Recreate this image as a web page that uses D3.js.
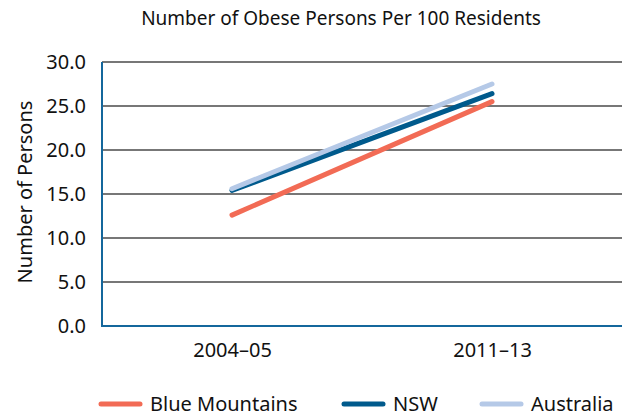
<!DOCTYPE html>
<html>
<head>
<meta charset="utf-8">
<script src="https://cdn.jsdelivr.net/npm/d3@7"></script>
<style>
  body { margin: 0; background: #fff; }
  svg { display: block; font-family: "Noto Sans", "Open Sans", sans-serif; }
</style>
</head>
<body>
<div id="chart"></div>
<script>
const periods = ["2004–05", "2011–13"];
const blueMountains = [12.6, 25.5];
const nsw = [15.4, 26.4];
const australia = [15.6, 27.5];
const yTicks = [0, 5, 10, 15, 20, 25, 30];

const series = [
    { name: "Blue Mountains", values: blueMountains, color: "#f26b55" },
    { name: "NSW", values: nsw, color: "#005a8c" },
    { name: "Australia", values: australia, color: "#b5c9e7" }
];

const width = 633, height = 418;
const margin = { top: 62, right: 11, bottom: 92, left: 102 };
const innerW = width - margin.left - margin.right;
const innerH = height - margin.top - margin.bottom;

const svg = d3.select("#chart")
    .append("svg")
    .attr("width", width)
    .attr("height", height);

// Title
svg.append("text")
    .attr("x", 341)
    .attr("y", 25)
    .attr("text-anchor", "middle")
    .attr("font-size", 19)
    .attr("fill", "#111")
    .text("Number of Obese Persons Per 100 Residents");

const g = svg.append("g")
    .attr("transform", `translate(${margin.left},${margin.top})`);

const x = d3.scalePoint()
    .domain(periods)
    .range([0, innerW])
    .padding(0.5);

const y = d3.scaleLinear()
    .domain([0, 30])
    .range([innerH, 0]);

// Gridlines
g.append("g")
    .selectAll("line")
    .data(yTicks.filter(d => d > 0))
    .enter()
    .append("line")
    .attr("x1", 0)
    .attr("x2", innerW)
    .attr("y1", d => y(d))
    .attr("y2", d => y(d))
    .attr("stroke", "#4a4a4a")
    .attr("stroke-width", 1.3);

// Y axis
const yAxis = g.append("g")
    .call(d3.axisLeft(y).tickValues(yTicks).tickFormat(d3.format(".1f")).tickSize(0).tickPadding(16));
yAxis.select(".domain").remove();
yAxis.selectAll("text")
    .attr("font-size", 20)
    .attr("fill", "#111")
    .attr("font-family", "Noto Sans, sans-serif");

// X axis
const xAxis = g.append("g")
    .attr("transform", `translate(0,${innerH})`)
    .call(d3.axisBottom(x).tickSize(0).tickPadding(17));
xAxis.select(".domain").remove();
xAxis.selectAll("text")
    .attr("font-size", 20)
    .attr("fill", "#111")
    .attr("font-family", "Noto Sans, sans-serif");

// Axis lines (left and bottom, blue)
g.append("path")
    .attr("d", `M0,0V${innerH}H${innerW}`)
    .attr("fill", "none")
    .attr("stroke", "#14679c")
    .attr("stroke-width", 2);

// Y label
svg.append("text")
    .attr("transform", `translate(32,${margin.top + innerH / 2 - 2}) rotate(-90)`)
    .attr("text-anchor", "middle")
    .attr("font-size", 20)
    .attr("fill", "#111")
    .text("Number of Persons");

// Lines
const line = d3.line()
    .x((d, i) => x(periods[i]))
    .y(d => y(d));

g.selectAll("path.series")
    .data(series)
    .enter()
    .append("path")
    .attr("class", "series")
    .attr("d", d => line(d.values))
    .attr("fill", "none")
    .attr("stroke", d => d.color)
    .attr("stroke-width", 5)
    .attr("stroke-linecap", "round");

// Legend
const legendX = [99, 342, 480];
const legend = svg.append("g")
    .selectAll("g")
    .data(series)
    .enter()
    .append("g")
    .attr("transform", (d, i) => `translate(${legendX[i]},404)`);

legend.append("line")
    .attr("x1", 2)
    .attr("x2", 41)
    .attr("stroke", d => d.color)
    .attr("stroke-width", 5)
    .attr("stroke-linecap", "round");

legend.append("text")
    .attr("x", 51)
    .attr("y", 7)
    .attr("font-size", 20)
    .attr("fill", "#111")
    .text(d => d.name);
</script>
</body>
</html>
